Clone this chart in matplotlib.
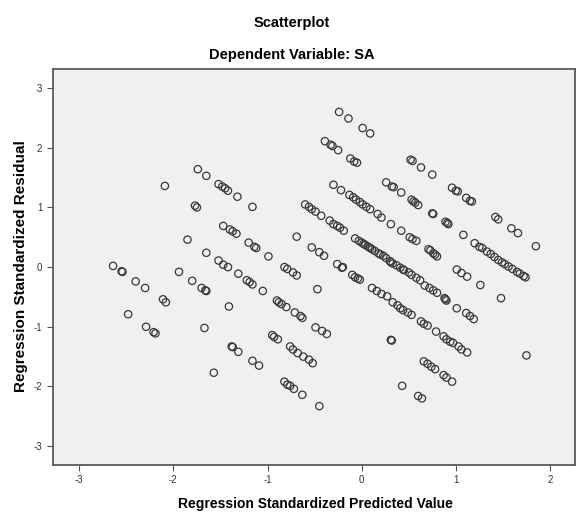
import matplotlib
matplotlib.use("Agg")
from matplotlib import pyplot as plt

# values (standardized predicted, standardized residual)
pred_values = [
    # left part
    -2.64, -2.55, -2.54, -2.40, -2.30, -2.11, -2.08, -2.48, -2.29, -2.21, -2.19,
    -2.09, -1.85, -1.94, -1.80, -1.70, -1.66, -1.65, -1.67, -1.57,
    -1.74, -1.65, -1.52, -1.48, -1.45, -1.42, -1.32, -1.16, -1.77, -1.75,
    -1.47, -1.40, -1.37, -1.33, -1.20, -1.14, -1.12, -0.99,
    -1.65, -1.52, -1.47, -1.42, -1.31, -1.22, -1.19, -1.16, -1.05, -1.41,
    -1.38, -1.37, -1.31, -1.16, -1.09,
    -0.82, -0.79, -0.73, -0.69,
    -0.90, -0.88, -0.85, -0.80, -0.71, -0.65, -0.63, -0.49, -0.42, -0.37,
    -0.95, -0.93, -0.89, -0.76, -0.73, -0.68, -0.62, -0.56, -0.52,
    -0.82, -0.79, -0.76, -0.72, -0.63, -0.45, -0.47,
    # top band
    -0.24, -0.14, 0.01, 0.09, 0.52, 0.54, 0.63, 0.75, 0.96, 1.00, 1.02,
    1.11, 1.15, 1.17, 1.42, 1.45, 1.59, 1.66, 1.85,
    # second band
    -0.39, -0.33, -0.31, -0.25, -0.12, -0.08, -0.05, 0.26, 0.32, 0.34, 0.42,
    0.53, 0.55, 0.57, 0.60, 0.75, 0.76, 0.89, 0.91, 0.92, 1.08,
    1.20, 1.25, 1.28, 1.33, 1.37, 1.41, 1.45, 1.49, 1.52, 1.56, 1.60, 1.65,
    1.68, 1.72, 1.74,
    # third band
    -0.30, -0.22, -0.13, -0.09, -0.06, -0.02, 0.01, 0.05, 0.09, 0.17, 0.21,
    0.31, 0.42, 0.51, 0.54, 0.58, 0.71, 0.73, 0.76, 0.78, 0.80, 1.01, 1.06,
    1.12, 1.26, 1.48,
    # dense band
    -0.60, -0.56, -0.53, -0.49, -0.43, -0.34, -0.30, -0.26, -0.23, -0.19,
    -0.07, -0.03, 0.00, 0.02, 0.04, 0.07, 0.09, 0.11, 0.14, 0.18, 0.20, 0.23,
    0.26, 0.30, 0.31, 0.33, 0.37, 0.41, 0.44, 0.45, 0.50, 0.53, 0.58, 0.62,
    0.67, 0.72, 0.76, 0.80, 0.88, 0.89, 0.90, 1.01, 1.11, 1.15, 1.19,
    # fifth band
    -0.69, -0.53, -0.45, -0.40, -0.26, -0.21, -0.20, -0.10, -0.07, -0.04,
    -0.02, 0.11, 0.16, 0.21, 0.27, 0.33, 0.38, 0.41, 0.44, 0.49, 0.53, 0.63,
    0.66, 0.70, 0.79, 0.87, 0.90, 0.94, 0.97, 1.03, 1.06, 1.12,
    # lower right
    0.31, 0.32, 0.66, 0.70, 0.74, 0.78, 0.87, 0.90, 0.96, 0.43, 0.60, 0.64,
    1.75,
]
resid_values = [
    0.02, -0.07, -0.08, -0.24, -0.35, -0.54, -0.59, -0.79, -1.00, -1.09, -1.11,
    1.36, 0.46, -0.08, -0.23, -0.35, -0.39, -0.40, -1.02, -1.77,
    1.64, 1.53, 1.39, 1.35, 1.32, 1.28, 1.18, 1.01, 1.03, 1.00,
    0.69, 0.63, 0.60, 0.56, 0.41, 0.34, 0.32, 0.18,
    0.24, 0.11, 0.04, 0.00, -0.11, -0.22, -0.25, -0.29, -0.40, -0.66,
    -1.33, -1.34, -1.42, -1.57, -1.65,
    0.00, -0.03, -0.09, -0.14,
    -0.56, -0.59, -0.62, -0.67, -0.76, -0.82, -0.85, -1.01, -1.07, -1.12,
    -1.14, -1.17, -1.21, -1.33, -1.38, -1.44, -1.50, -1.55, -1.61,
    -1.92, -1.97, -1.99, -2.04, -2.14, -2.33, -0.37,
    2.60, 2.49, 2.33, 2.24, 1.80, 1.78, 1.67, 1.55, 1.33, 1.28, 1.27,
    1.16, 1.11, 1.10, 0.84, 0.80, 0.65, 0.57, 0.35,
    2.11, 2.05, 2.03, 1.96, 1.82, 1.77, 1.75, 1.42, 1.35, 1.34, 1.25,
    1.13, 1.10, 1.08, 1.04, 0.90, 0.89, 0.76, 0.74, 0.72, 0.54,
    0.40, 0.34, 0.32, 0.26, 0.22, 0.17, 0.12, 0.08, 0.05, 0.01, -0.03, -0.08,
    -0.11, -0.15, -0.17,
    1.38, 1.29, 1.21, 1.17, 1.13, 1.09, 1.05, 1.01, 0.97, 0.89, 0.83,
    0.72, 0.61, 0.50, 0.47, 0.44, 0.30, 0.28, 0.23, 0.21, 0.18, -0.04, -0.10,
    -0.16, -0.30, -0.52,
    1.05, 1.01, 0.97, 0.93, 0.86, 0.78, 0.72, 0.69, 0.66, 0.61,
    0.48, 0.44, 0.41, 0.39, 0.37, 0.34, 0.32, 0.30, 0.27, 0.23, 0.21, 0.19,
    0.15, 0.10, 0.08, 0.06, 0.03, -0.01, -0.04, -0.05, -0.09, -0.13, -0.18, -0.22,
    -0.31, -0.35, -0.39, -0.43, -0.52, -0.54, -0.56, -0.69, -0.77, -0.82, -0.87,
    0.51, 0.33, 0.25, 0.19, 0.05, -0.01, 0.00, -0.13, -0.17, -0.19,
    -0.21, -0.35, -0.40, -0.45, -0.49, -0.59, -0.64, -0.69, -0.72, -0.76, -0.80, -0.91,
    -0.95, -0.98, -1.08, -1.16, -1.21, -1.25, -1.27, -1.33, -1.38, -1.43,
    -1.22, -1.23, -1.58, -1.62, -1.67, -1.71, -1.81, -1.85, -1.92, -1.99, -2.16, -2.20,
    -1.48,
]

x_ticks = [-3, -2, -1, 0, 1, 2]
y_ticks = [-3, -2, -1, 0, 1, 2, 3]

plt.rcParams['font.family'] = ['Liberation Sans', 'DejaVu Sans']
plt.rcParams['axes.unicode_minus'] = False

fig = plt.figure(figsize=(5.83, 5.29), dpi=100)
ax = fig.add_axes([0.0906, 0.1217, 0.8964, 0.7479])
ax.set_facecolor('#f0f0f0')

ax.scatter(pred_values, resid_values, s=28, facecolors='none',
           edgecolors='#383838', linewidths=0.9)

ax.set_xlim(-3.28, 2.27)
ax.set_ylim(-3.31, 3.32)
ax.set_xticks(x_ticks)
ax.set_yticks(y_ticks)
ax.tick_params(direction='out', length=4, width=0.8, color='#555555',
               labelsize=7, labelcolor='#333333')

for spine in ax.spines.values():
    spine.set_color('#5a5a5a')
    spine.set_linewidth(1.3)

fig.text(0.5, 1 - 23 / 529, 'Scatterplot', ha='center', va='center',
         fontsize=10.5, fontweight='bold')
fig.text(0.5, 1 - 55 / 529, 'Dependent Variable: SA', ha='center', va='center',
         fontsize=10.5, fontweight='bold')
fig.text(315 / 583, 1 - 504 / 529, 'Regression Standardized Predicted Value',
         ha='center', va='center', fontsize=10, fontweight='bold')
fig.text(21 / 583, 1 - 266 / 529, 'Regression Standardized Residual',
         ha='center', va='center', rotation=90, fontsize=11, fontweight='bold')

fig.savefig('out.png', dpi=100)
